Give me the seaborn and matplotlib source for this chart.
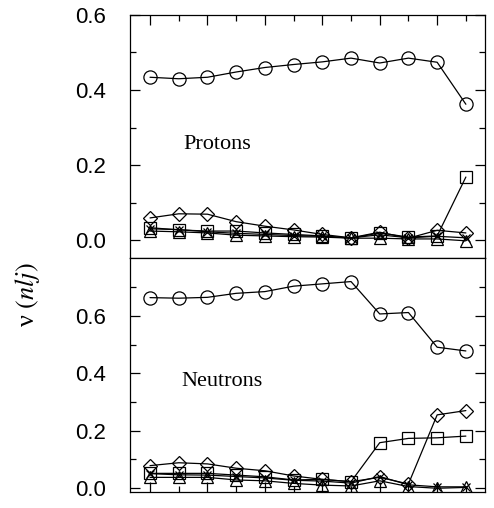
import numpy as np
import pandas as pd
import matplotlib
matplotlib.use("Agg")
import matplotlib.pyplot as plt
import seaborn as sns

sns.set_style("ticks", {"xtick.direction": "in", "ytick.direction": "in",
                        "axes.edgecolor": "black", "xtick.color": "black",
                        "ytick.color": "black", "text.color": "black"})
plt.rcParams['font.family'] = ['Liberation Sans', 'DejaVu Sans']
plt.rcParams['mathtext.fontset'] = 'stix'

# 殻の番号 (1..12)
x = np.arange(1, 13)

# 陽子
p_circle = [0.434, 0.430, 0.434, 0.448, 0.460, 0.468, 0.475, 0.485, 0.472, 0.485, 0.474, 0.362]
p_square = [0.033, 0.027, 0.024, 0.024, 0.019, 0.015, 0.011, 0.005, 0.019, 0.008, 0.011, 0.168]
p_diamond = [0.059, 0.070, 0.069, 0.049, 0.037, 0.027, 0.015, 0.006, 0.021, 0.005, 0.026, 0.019]
p_triangle = [0.024, 0.022, 0.019, 0.013, 0.011, 0.009, 0.008, 0.005, 0.005, 0.003, 0.003, -0.002]
p_cross = [0.030, 0.028, 0.022, 0.018, 0.015, 0.012, 0.010, 0.006, 0.014, 0.006, 0.010, 0.006]

# 中性子
n_circle = [0.664, 0.662, 0.665, 0.679, 0.685, 0.704, 0.712, 0.720, 0.607, 0.612, 0.491, 0.478]
n_square = [0.051, 0.051, 0.051, 0.045, 0.039, 0.028, 0.030, 0.022, 0.158, 0.173, 0.175, 0.181]
n_diamond = [0.078, 0.088, 0.084, 0.069, 0.060, 0.042, 0.030, 0.022, 0.037, 0.014, 0.255, 0.270]
n_triangle = [0.037, 0.037, 0.037, 0.028, 0.025, 0.016, 0.010, 0.007, 0.025, 0.005, -0.001, 0.002]
n_cross = [0.050, 0.046, 0.045, 0.040, 0.035, 0.027, 0.024, 0.017, 0.040, 0.011, 0.004, 0.004]

markers = [('o', 9.5), ('s', 8), ('D', 7), ('^', 9), ('x', 6)]

fig = plt.figure(figsize=(4.94, 5.08), dpi=100)
ax1 = fig.add_axes([0.263, 0.492, 0.719, 0.4785])
ax2 = fig.add_axes([0.263, 0.0315, 0.719, 0.4605], sharex=ax1)

for ax, series in [(ax1, [p_circle, p_square, p_diamond, p_triangle, p_cross]),
                   (ax2, [n_circle, n_square, n_diamond, n_triangle, n_cross])]:
    for vals, (m, ms) in zip(series, markers):
        sns.lineplot(x=x, y=vals, ax=ax, color='k', lw=0.9, marker=m, markersize=ms,
                     markerfacecolor='none', markeredgecolor='k', markeredgewidth=0.9)
    ax.tick_params(which='both', top=True, right=True, labelbottom=False,
                   labelsize=16, width=0.9, pad=17, colors='black')
    ax.tick_params(which='major', length=7)
    ax.tick_params(which='minor', length=4)
    ax.set_xticks([1, 3, 5, 7, 9, 11])
    ax.set_xticks([2, 4, 6, 8, 10, 12], minor=True)
    for s in ax.spines.values():
        s.set_linewidth(0.9)
        s.set_color('black')

ax1.set_xlim(0.3, 12.67)
ax1.set_ylim(-0.048, 0.6)
ax1.set_yticks([0.0, 0.2, 0.4, 0.6])
ax1.set_yticks([0.1, 0.3, 0.5], minor=True)
ax1.set_yticklabels(['0.0', '0.2', '0.4', '0.6'])
ax1.tick_params(axis='x', bottom=False, which='both')

ax2.set_ylim(-0.014, 0.802)
ax2.set_yticks([0.0, 0.2, 0.4, 0.6])
ax2.set_yticks([0.1, 0.3, 0.5, 0.7], minor=True)
ax2.set_yticklabels(['0.0', '0.2', '0.4', '0.6'])
ax2.tick_params(axis='x', top=False, which='both')

ax1.text(2.15, 0.256, 'Protons', fontsize=16, family='Liberation Serif', va='center')
ax2.text(2.1, 0.37, 'Neutrons', fontsize=16, family='Liberation Serif', va='center')

fig.text(0.055, 0.42, r'ν $(nlj)$', rotation=90, fontsize=19, va='center', ha='center',
         family='Liberation Serif')

fig.savefig('out.png', dpi=100)
